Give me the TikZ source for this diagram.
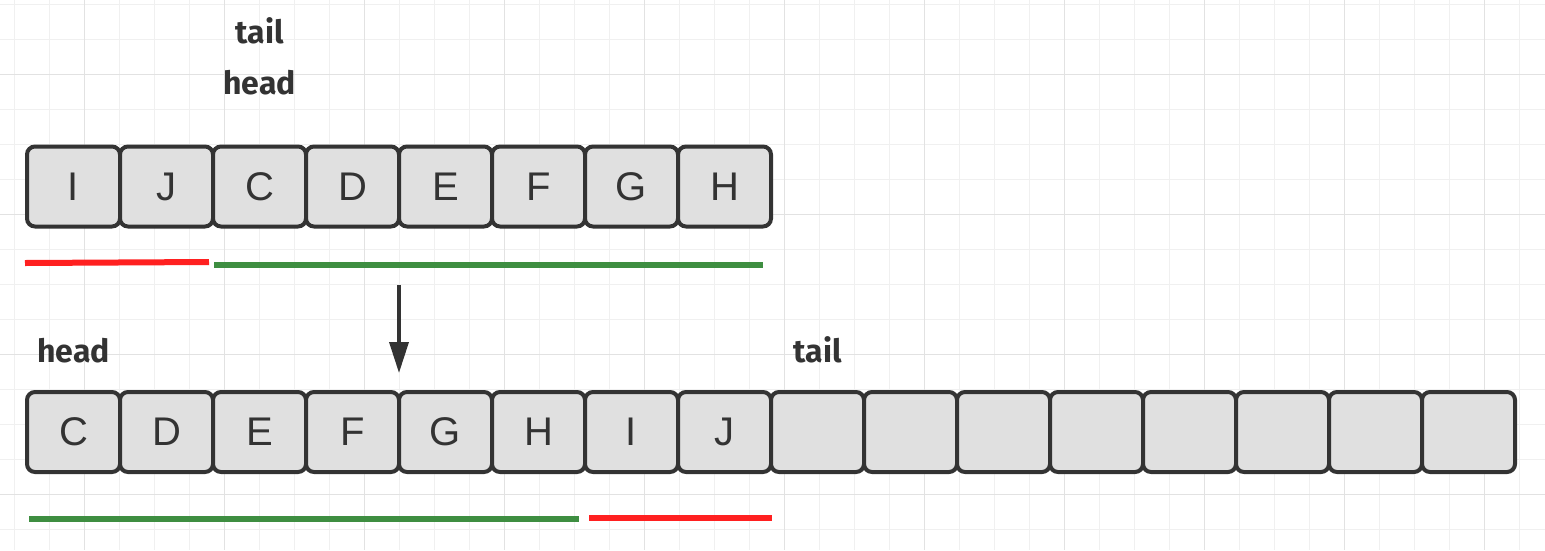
\documentclass[tikz,border=0pt]{standalone}
\usepackage{fontspec}
\setmainfont{Liberation Sans}
\newfontfamily\notefont{Fira Sans}
\usetikzlibrary{arrows.meta}
\definecolor{cellfill}{HTML}{E0E0E0}
\definecolor{cellline}{HTML}{333333}
\definecolor{minorgrid}{HTML}{F0F0F0}
\definecolor{majorgrid}{HTML}{E2E2E2}
\definecolor{oldpart}{HTML}{FF2020}
\definecolor{newpart}{HTML}{3E8E41}

\begin{document}
\begin{tikzpicture}[x=1pt,y=-1pt,
  cell/.style={draw=cellline,fill=cellfill,line width=4pt,rounded corners=8pt,
    minimum width=93pt,minimum height=80pt,inner sep=0pt,outer sep=0pt,text=cellline,
    font=\fontsize{40}{42}\selectfont},
  ptr/.style={text=cellline,inner sep=2pt,font=\notefont\bfseries\fontsize{32}{34}\selectfont},
  span/.style={line width=6pt}]
  \useasboundingbox (0,0) rectangle (1545,550);
  % grid
  \foreach \x in {14,49,...,1545} \draw[minorgrid,line width=1pt] (\x,0) -- (\x,550);
  \foreach \y in {4,39,...,550} \draw[minorgrid,line width=1pt] (0,\y) -- (1545,\y);
  \foreach \x in {84,224,...,1545} \draw[majorgrid,line width=1pt] (\x,0) -- (\x,550);
  \foreach \y in {74,214,...,550} \draw[majorgrid,line width=1pt] (0,\y) -- (1545,\y);
  % old array
  \foreach \v [count=\i from 0] in {I,J,C,D,E,F,G,H}
    \node[cell] (t\i) at (73.5+93*\i,186.5) {\v};
  % new array
  \foreach \v [count=\i from 0] in {C,D,E,F,G,H,I,J,,,,,,,,}
    \node[cell] (b\i) at (73.5+93*\i,432) {\v};
  \node[ptr,anchor=south] (head1) at ([yshift=49.5pt]t2.north) {head};
  \node[ptr,anchor=south] (tail1) at ([yshift=100.5pt]t2.north) {tail};
  \node[ptr,anchor=south] (head2) at ([yshift=27pt]b0.north) {head};
  \node[ptr,anchor=south] (tail2) at ([yshift=27pt]b8.north) {tail};
  \draw[span,oldpart] (25,263) -- (209,262);
  \draw[span,newpart] (214,265) -- (763,265);
  \draw[span,newpart] (29,519) -- (579,519);
  \draw[span,oldpart] (589,518) -- (772,518);
  \coordinate (from) at ([yshift=-58.5pt]t3.south east);
  \coordinate (to) at ([yshift=19pt]b4.north west);
  \draw[cellline,line width=3.5pt,-{Triangle[width=19pt,length=31pt]}] (from) -- (to);
\end{tikzpicture}
\end{document}
